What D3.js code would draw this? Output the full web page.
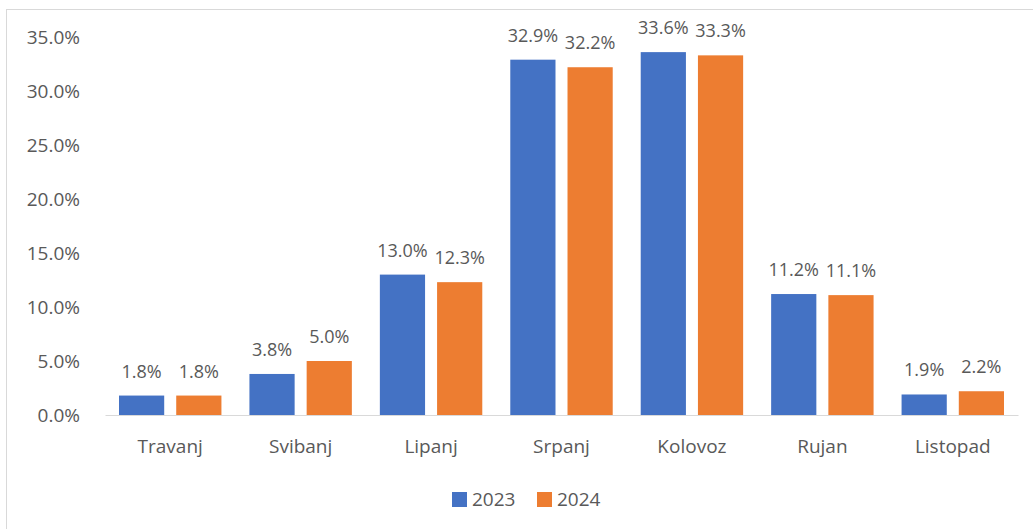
<!DOCTYPE html>
<html><head><meta charset="utf-8">
<script src="https://cdn.jsdelivr.net/npm/d3@7"></script>
<style>body{margin:0;background:#fff}svg{display:block}text{font-family:"Open Sans",sans-serif;fill:#595959}</style>
</head><body><svg id="c" width="1033" height="529"></svg>
<script>
const categories = ["Travanj","Svibanj","Lipanj","Srpanj","Kolovoz","Rujan","Listopad"];
const seriesNames = ["2023","2024"];
const values2023 = [1.8,3.8,13.0,32.9,33.6,11.2,1.9];
const values2024 = [1.8,5.0,12.3,32.2,33.3,11.1,2.2];
const yTicks = [0,5,10,15,20,25,30,35];
const colors = ["#4472C4","#ED7D31"];

const svg = d3.select("#c");
svg.append("rect").attr("x",6.5).attr("y",9.5).attr("width",1040).attr("height",540)
  .attr("fill","none").attr("stroke","#d9d9d9");

const pLeft=105,pRight=1018,pTop=37,pBottom=415;
const x = d3.scaleBand().domain(categories).range([pLeft,pRight]).paddingInner(0).paddingOuter(0);
const x1 = d3.scaleBand().domain(seriesNames).range([14, x.bandwidth()-14]).paddingInner(0.21).paddingOuter(0);
const y = d3.scaleLinear().domain([0,35]).range([pBottom,pTop]);

const yAxis = svg.append("g").attr("transform",`translate(${pLeft},0)`)
  .call(d3.axisLeft(y).tickValues(yTicks).tickSize(0).tickPadding(25).tickFormat(d=>d.toFixed(1)+"%"));
yAxis.select(".domain").remove();
yAxis.selectAll("text").style("font-size","19px").attr("fill","#595959").attr("dy","0.35em");

const data = categories.map((c,i)=>({c, vals:[values2023[i],values2024[i]]}));
const g = svg.selectAll("g.cat").data(data).enter().append("g").attr("class","cat")
  .attr("transform",d=>`translate(${x(d.c)},0)`);
g.selectAll("rect").data(d=>d.vals.map((v,j)=>({v,s:seriesNames[j],j}))).enter().append("rect")
  .attr("x",d=>x1(d.s)).attr("width",x1.bandwidth())
  .attr("y",d=>y(d.v)).attr("height",d=>y(0)-y(d.v)).attr("fill",d=>colors[d.j]);
g.selectAll("text.lbl").data(d=>d.vals.map((v,j)=>({v,s:seriesNames[j],j}))).enter().append("text")
  .attr("class","lbl").attr("x",d=>x1(d.s)+x1.bandwidth()/2).attr("y",d=>y(d.v)-18)
  .attr("text-anchor","middle").style("font-size","18px").text(d=>d.v.toFixed(1)+"%");

const xAxis = svg.append("g").attr("transform",`translate(0,${pBottom})`)
  .call(d3.axisBottom(x).tickSize(0).tickPadding(25));
xAxis.select(".domain").attr("stroke","#d9d9d9");
xAxis.selectAll("text").style("font-size","19px").attr("fill","#595959");

const legX=[452,537];
seriesNames.forEach((s,i)=>{
  svg.append("rect").attr("x",legX[i]).attr("y",492).attr("width",15).attr("height",15).attr("fill",colors[i]);
  svg.append("text").attr("x",legX[i]+20).attr("y",499.5).attr("dy","0.35em").style("font-size","19px").text(s);
});
</script></body></html>
